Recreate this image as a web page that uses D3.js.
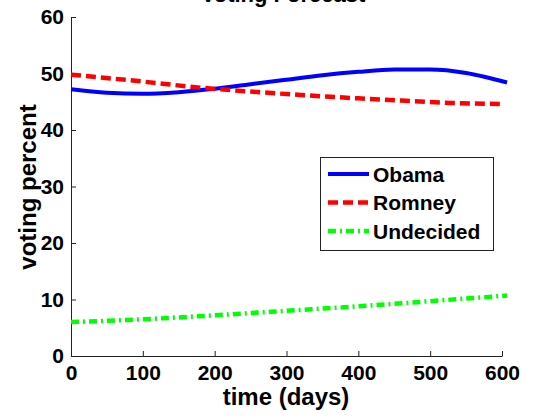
<!DOCTYPE html>
<html>
<head>
<meta charset="utf-8">
<script src="https://cdn.jsdelivr.net/npm/d3@7"></script>
<style>
  html, body { margin: 0; padding: 0; background: #fff; }
  svg { display: block; }
  text { font-family: "Liberation Sans", Arial, Helvetica, sans-serif; font-weight: bold; fill: #000; }
</style>
</head>
<body>
<svg id="chart" width="541" height="420"></svg>
<script>
// ---- data ----
const title = "Voting Forecast";
const xTicks = [0, 100, 200, 300, 400, 500, 600];
const yTicks = [0, 10, 20, 30, 40, 50, 60];
const seriesNames = ["Obama", "Romney", "Undecided"];
const obamaDays   = [0, 50, 100, 150, 200, 250, 300, 350, 400, 450, 500, 550, 607];
const obamaVals   = [47.2, 46.6, 46.4, 46.7, 47.3, 48.1, 48.9, 49.7, 50.3, 50.7, 50.7, 50.1, 48.4];
const romneyDays  = [0, 90, 180, 250, 320, 400, 460, 530, 600];
const romneyVals  = [49.8, 48.7, 47.5, 46.8, 46.2, 45.6, 45.2, 44.8, 44.6];
const undecDays   = [0, 100, 200, 300, 400, 500, 607];
const undecVals   = [6.0, 6.5, 7.2, 8.0, 8.8, 9.7, 10.7];

const svg = d3.select("#chart");
const x = d3.scaleLinear().domain([0, 600]).range([71, 502]);
const y = d3.scaleLinear().domain([0, 60]).range([356, 17]);

// axes
const xAxis = d3.axisBottom(x).tickValues(xTicks).tickSizeInner(-5).tickSizeOuter(0).tickPadding(9);
const yAxis = d3.axisLeft(y).tickValues(yTicks).tickSizeInner(-5).tickSizeOuter(0).tickPadding(7);

const gx = svg.append("g").attr("transform", `translate(0,${y(0)})`).call(xAxis);
const gy = svg.append("g").attr("transform", `translate(${x(0)},0)`).call(yAxis);
[gx, gy].forEach(g => {
  g.select(".domain").attr("stroke", "#222").attr("stroke-width", 1);
  g.selectAll(".tick line").attr("stroke", "#222").attr("stroke-width", 1);
  g.selectAll(".tick text").style("font-size", "21px").style("font-family", "Liberation Sans, Arial, sans-serif").style("font-weight", "bold").attr("fill", "#000");
});

// lines
const mk = (days, vals) => days.map((d, i) => ({d, v: vals[i]}));
const line = d3.line().x(p => x(p.d)).y(p => y(p.v)).curve(d3.curveMonotoneX);

const series = [
  {name: seriesNames[0], data: mk(obamaDays, obamaVals), color: "#0000ff", dash: null, w: 4},
  {name: seriesNames[1], data: mk(romneyDays, romneyVals), color: "#ff0000", dash: "10,5", w: 4.5},
  {name: seriesNames[2], data: mk(undecDays, undecVals), color: "#00ff00", dash: "8,4,2,4", w: 4.5}
];

series.forEach(s => {
  svg.append("path")
    .attr("d", line(s.data))
    .attr("fill", "none")
    .attr("stroke", s.color)
    .attr("stroke-width", s.w)
    .attr("stroke-dasharray", s.dash);
});

// title (mostly cut off at top, as in the reference)
svg.append("text").attr("x", 283).attr("y", 1.5).attr("text-anchor", "middle")
  .style("font-size", "22px").text(title);

// axis labels
svg.append("text").attr("x", 286).attr("y", 405).attr("text-anchor", "middle")
  .style("font-size", "24px").text("time (days)");
svg.append("text").attr("transform", "translate(36,187) rotate(-90)").attr("text-anchor", "middle")
  .style("font-size", "24px").text("voting percent");

// legend
const lg = svg.append("g");
lg.append("rect").attr("x", 320.5).attr("y", 157.5).attr("width", 173).attr("height", 93)
  .attr("fill", "#fff").attr("stroke", "#222").attr("stroke-width", 1);
series.forEach((s, i) => {
  const cy = 174 + i * 28.5;
  lg.append("line").attr("x1", 328).attr("x2", 369).attr("y1", cy).attr("y2", cy)
    .attr("stroke", s.color).attr("stroke-width", s.w).attr("stroke-dasharray", s.dash);
  lg.append("text").attr("x", 373).attr("y", cy + 7.5).style("font-size", "21px").text(s.name);
});
</script>
</body>
</html>
